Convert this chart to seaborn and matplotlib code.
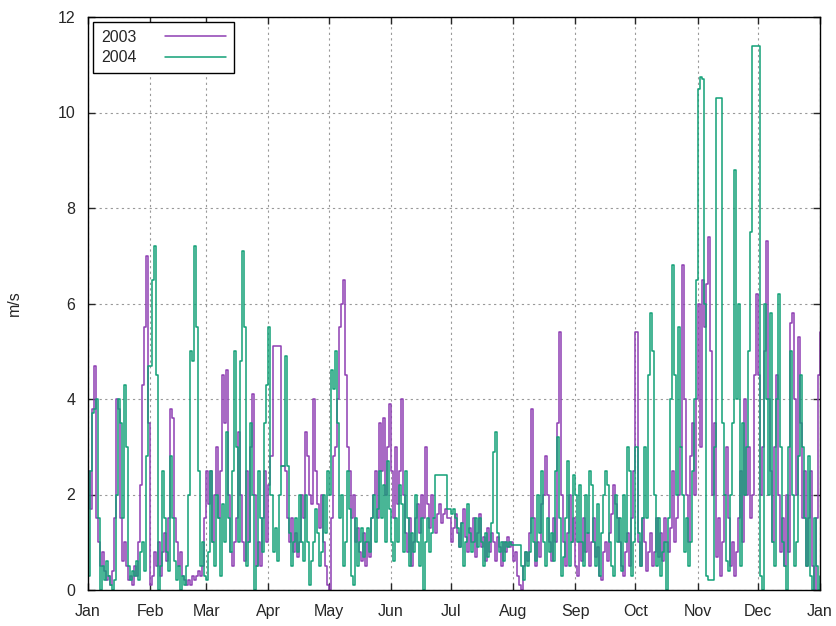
import numpy as np
import pandas as pd
import matplotlib
matplotlib.use("Agg")
import matplotlib.pyplot as plt
import seaborn as sns

# daily wind speed (m/s), day-of-year 0..365
speed_2003 = [
    2.5, 1.7, 3.8, 4.7, 1.5, 1.0, 0.5, 0.8, 0.4, 0.2,
    0.3, 0.1, 0.4, 1.5, 4.0, 3.8, 1.5, 0.6, 1.0, 0.5,
    0.2, 0.3, 0.1, 0.5, 0.3, 1.0, 2.2, 4.3, 5.5, 7.0,
    3.5, 0.1, 0.3, 0.8, 0.5, 1.0, 0.3, 0.8, 1.2, 0.6,
    1.5, 3.8, 3.6, 1.5, 1.0, 0.5, 0.8, 0.3, 0.2, 0.1,
    0.2, 0.1, 0.3, 0.2, 0.3, 0.4, 0.3, 0.5, 1.5, 2.5,
    1.8, 2.5, 1.0, 2.0, 3.0, 1.5, 2.5, 4.5, 3.5, 4.6,
    2.0, 0.8, 0.5, 1.0, 1.5, 3.3, 2.0, 1.0, 0.6, 2.5,
    1.0, 3.0, 4.1, 2.0, 0.5, 1.0, 0.5, 1.5, 2.5, 1.0,
    2.2, 2.8, 5.1, 5.1, 5.1, 5.1, 2.6, 2.6, 2.5, 1.5,
    1.0, 1.5, 0.8, 1.2, 0.7, 1.0, 2.0, 1.5, 3.3, 2.8,
    2.0, 1.8, 4.0, 2.5, 1.8, 1.3, 2.0, 1.0, 0.5, 0.1,
    0.0, 1.5, 2.8, 3.0, 4.0, 5.5, 6.0, 6.5, 4.5, 3.0,
    2.5, 1.5, 2.0, 1.0, 1.3, 0.8, 0.6, 1.2, 0.5, 1.0,
    0.7, 1.5, 2.0, 2.5, 1.5, 3.5, 2.5, 3.6, 2.0, 3.0,
    3.9, 2.5, 1.5, 3.0, 1.8, 2.5, 4.0, 2.0, 1.2, 0.8,
    1.5, 0.5, 1.0, 1.5, 1.8, 1.2, 2.0, 1.5, 3.0, 1.8,
    1.3, 2.0, 1.5, 1.2, 1.6, 1.8, 1.4, 1.6, 1.7, 1.5,
    1.5, 1.0, 1.3, 1.6, 1.2, 0.9, 1.4, 1.7, 1.1, 0.8,
    1.3, 1.0, 1.5, 0.7, 1.2, 1.6, 0.9, 1.1, 0.6, 1.3,
    0.8, 1.2, 1.0, 0.6, 1.1, 0.9, 0.5, 1.0, 0.8, 1.1,
    0.9, 1.0, 0.6, 0.8, 0.3, 0.1, 0.0, 0.5, 0.8, 0.6,
    1.2, 3.8, 1.5, 0.5, 1.0, 0.7, 1.8, 2.0, 2.8, 2.0,
    1.0, 0.6, 1.5, 1.0, 3.5, 5.4, 2.0, 1.0, 0.5, 1.2,
    2.0, 1.0, 1.5, 0.5, 0.3, 1.0, 0.6, 1.5, 0.8, 1.2,
    0.5, 1.0, 1.5, 0.7, 0.9, 0.3, 0.2, 0.8, 1.0, 0.6,
    1.2, 1.6, 2.2, 1.8, 1.5, 1.0, 0.5, 0.3, 0.8, 1.2,
    0.5, 1.5, 2.5, 5.4, 1.0, 0.5, 1.5, 1.0, 0.4, 0.8,
    1.2, 0.5, 0.8, 1.5, 0.7, 1.2, 0.6, 1.5, 1.0, 0.8,
    1.3, 2.5, 1.0, 1.5, 2.0, 3.0, 6.8, 4.0, 2.0, 1.0,
    2.8, 3.5, 2.0, 4.0, 6.0, 3.0, 6.5, 5.5, 6.4, 7.4,
    5.0, 2.0, 3.5, 0.7, 1.5, 0.3, 1.0, 2.0, 3.0, 1.5,
    0.5, 1.0, 0.3, 0.8, 1.5, 2.5, 1.0, 4.0, 2.0, 3.0,
    1.5, 2.0, 4.5, 6.2, 4.5, 2.0, 3.0, 5.0, 7.3, 4.0,
    2.5, 1.0, 3.0, 4.5, 2.0, 0.8, 1.5, 0.5, 2.0, 0.8,
    5.6, 5.8, 4.0, 2.0, 5.3, 3.5, 1.5, 2.5, 0.5, 1.5,
    2.5, 0.5, 0.0, 1.5, 4.5, 5.4,
]

speed_2004 = [
    0.3, 2.5, 3.7, 3.8, 4.0, 1.5, 0.0, 0.5, 0.2, 0.6,
    0.3, 0.1, 0.0, 0.2, 2.0, 4.0, 3.5, 1.5, 4.3, 3.0,
    0.5, 0.2, 0.4, 0.3, 0.6, 0.2, 0.8, 1.0, 0.4, 2.8,
    4.7, 4.7, 6.5, 7.2, 4.5, 0.0, 0.5, 2.5, 1.5, 0.8,
    0.4, 2.8, 1.5, 0.6, 0.2, 0.5, 0.0, 0.3, 0.1, 0.5,
    2.0, 5.0, 4.8, 7.2, 5.5, 2.5, 0.5, 1.0, 0.3, 0.2,
    0.8, 2.5, 1.0, 0.5, 2.0, 1.5, 0.3, 1.8, 1.0, 3.3,
    1.5, 0.8, 2.5, 5.0, 3.0, 1.0, 4.8, 7.1, 5.5, 0.5,
    1.0, 3.5, 2.0, 0.0, 0.5, 2.5, 1.5, 0.8, 3.5, 4.3,
    5.5, 2.0, 0.8, 1.3, 0.6, 2.0, 2.6, 2.6, 4.9, 2.6,
    1.2, 0.5, 1.0, 1.5, 0.8, 2.0, 1.0, 0.6, 2.0, 1.0,
    0.1, 0.6, 1.0, 1.7, 1.2, 0.5, 0.8, 2.0, 1.2, 2.5,
    2.0, 4.6, 4.2, 5.0, 3.5, 1.5, 2.0, 0.5, 1.0, 2.5,
    1.7, 0.3, 0.1, 1.5, 0.5, 1.0, 1.3, 0.7, 1.0, 1.3,
    0.8, 1.5, 2.0, 1.0, 1.7, 2.5, 1.5, 2.2, 1.0, 2.7,
    1.7, 1.0, 0.6, 1.5, 1.0, 2.2, 1.8, 0.8, 2.5, 1.5,
    0.5, 1.2, 0.8, 2.0, 1.0, 0.5, 1.5, 0.0, 1.0, 1.5,
    0.8, 1.2, 1.5, 2.4, 2.4, 2.4, 2.4, 2.4, 2.4, 1.7,
    1.7, 1.6, 1.7, 1.5, 1.3, 0.9, 1.4, 0.5, 1.0, 1.8,
    1.2, 0.8, 1.0, 1.5, 0.9, 1.5, 1.0, 0.5, 1.2, 0.7,
    1.0, 1.4, 2.9, 3.3, 1.2, 0.8, 1.0, 0.6, 1.0, 0.9,
    1.0, 0.95, 0.95, 0.95, 0.95, 0.95, 0.5, 0.2, 0.8, 0.5,
    0.8, 1.5, 1.0, 0.6, 2.0, 1.2, 2.5, 1.0, 0.5, 1.5,
    0.8, 1.2, 0.6, 2.5, 3.2, 1.5, 0.3, 0.7, 1.5, 2.7,
    0.5, 1.0, 2.4, 2.0, 1.0, 2.2, 1.0, 0.5, 2.0, 1.2,
    2.5, 2.2, 1.0, 0.5, 1.8, 0.3, 1.2, 2.0, 2.5, 2.2,
    1.0, 0.5, 0.3, 2.0, 1.0, 1.5, 0.4, 2.0, 1.0, 3.0,
    2.5, 0.3, 1.0, 3.0, 1.2, 0.5, 1.5, 3.0, 1.5, 4.5,
    5.8, 5.0, 2.0, 0.5, 1.5, 0.3, 0.8, 1.0, 0.0, 1.5,
    4.0, 6.8, 4.5, 2.0, 5.5, 3.0, 2.0, 0.8, 1.5, 0.5,
    1.0, 2.5, 4.0, 6.5, 10.5, 10.75, 10.7, 6.0, 0.3, 0.2,
    0.2, 0.2, 3.0, 10.3, 10.3, 10.3, 3.5, 2.0, 0.6, 0.4,
    2.0, 3.5, 8.8, 4.0, 6.0, 0.5, 3.5, 2.0, 3.0, 5.0,
    7.5, 11.4, 11.4, 11.4, 11.4, 0.3, 0.0, 6.0, 4.0, 2.0,
    5.8, 1.0, 0.5, 4.0, 6.2, 3.0, 1.0, 0.5, 0.0, 3.0,
    5.0, 2.0, 0.5, 1.0, 2.8, 4.5, 3.0, 1.5, 0.5, 2.8,
    0.3, 0.0, 1.5, 0.5, 0.0, 0.3,
]

month_starts = [0, 31, 59, 90, 120, 151, 181, 212, 243, 273, 304, 334, 365]
month_labels = ["Jan", "Feb", "Mar", "Apr", "May", "Jun", "Jul",
                "Aug", "Sep", "Oct", "Nov", "Dec", "Jan"]
colors = {"2003": "#8e3fb3", "2004": "#12a077"}

df = pd.concat([
    pd.DataFrame({"day": np.arange(len(speed_2003)), "speed": speed_2003, "year": "2003"}),
    pd.DataFrame({"day": np.arange(len(speed_2004)), "speed": speed_2004, "year": "2004"}),
])

sns.set_style("ticks")
plt.rcParams["font.family"] = ["Liberation Sans", "DejaVu Sans"]

fig = plt.figure(figsize=(8.37, 6.26), dpi=100)
ax = fig.add_axes([88 / 837, 1 - 590 / 626, (820 - 88) / 837, (590 - 17) / 626])

sns.lineplot(data=df, x="day", y="speed", hue="year", palette=colors,
             estimator=None, drawstyle="steps-post", linewidth=1.1, ax=ax)

ax.set_xlim(0, 365)
ax.set_ylim(0, 12)
ax.set_xticks(month_starts)
ax.set_xticklabels(month_labels, fontsize=11.5)
ax.set_yticks(range(0, 13, 2))
ax.tick_params(axis="y", labelsize=11.5, pad=9)
ax.tick_params(axis="x", pad=10)
ax.tick_params(direction="in", top=True, right=True, length=5, width=1)
ax.set_xlabel("")
ax.set_ylabel("m/s", fontsize=11.5, labelpad=26)
ax.grid(True, color="#999999", linestyle=(0, (2, 3)), linewidth=0.8)
for s in ax.spines.values():
    s.set_color("black")
    s.set_linewidth(1)

handles, labels = ax.get_legend_handles_labels()
leg = ax.legend(handles, labels, loc="upper left", markerfirst=False,
                fontsize=11.5, frameon=True, fancybox=False, edgecolor="black",
                framealpha=1, handlelength=3.8, borderaxespad=0.3,
                labelspacing=0.35, handletextpad=1.8, borderpad=0.5)
leg.get_frame().set_linewidth(1)

fig.savefig("out.png", dpi=100)
